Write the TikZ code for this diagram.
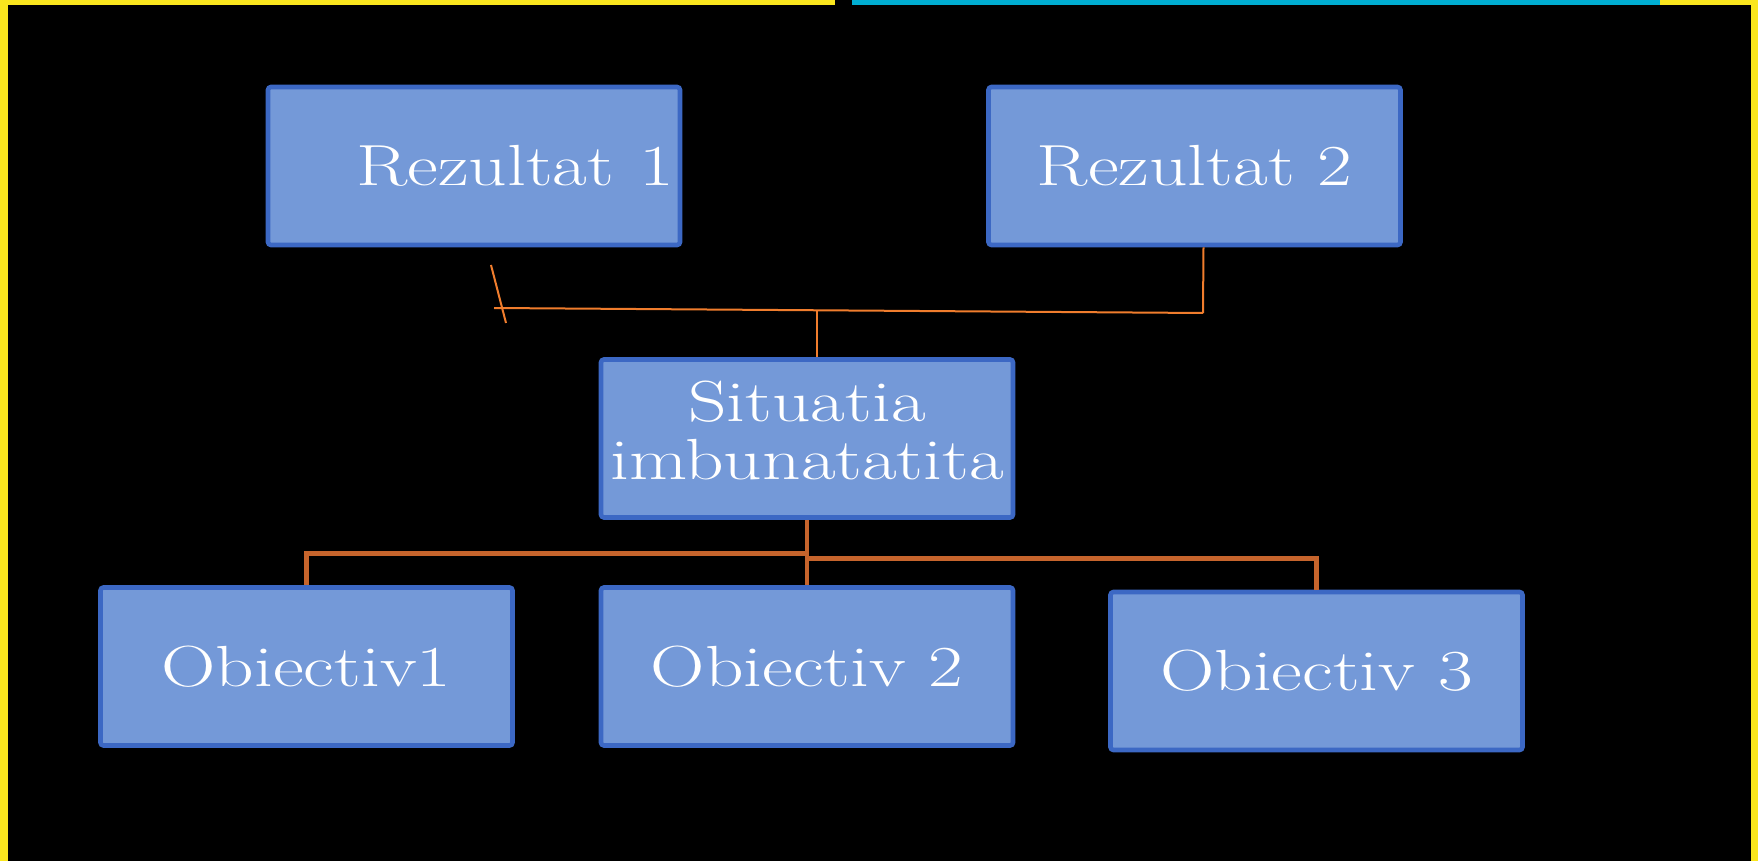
\documentclass[tikz,border=0pt]{standalone}
\usepackage{tikz}
\usepackage{graphicx}
\usepackage{xcolor}
\usetikzlibrary{}

\definecolor{boxfill}{RGB}{116,153,216}
\definecolor{boxline}{RGB}{60,104,196}
\definecolor{thinorange}{RGB}{240,125,45}
\definecolor{thickorange}{RGB}{198,100,44}
\definecolor{frameyellow}{RGB}{250,230,30}
\definecolor{framecyan}{RGB}{0,174,210}

\newcommand{\wide}[1]{\scalebox{1.3}[1]{#1}}

\tikzset{
	goalbox/.style={draw=boxline,fill=boxfill,line width=2.3pt,rounded corners=1.5pt,minimum width=206pt,minimum height=79pt,text=white,font=\fontsize{29}{29}\selectfont},
	thinlink/.style={draw=thinorange,line width=1pt},
	thicklink/.style={draw=thickorange,line width=2.4pt}
}

\begin{document}
\begin{tikzpicture}[x=0.5pt,y=-0.5pt]
		\useasboundingbox (0,0) rectangle (1758,861);
		\fill[black] (0,0) rectangle (1758,861);
		
		\fill[frameyellow] (0,0) rectangle (8,861);
		\fill[frameyellow] (1751,0) rectangle (1758,861);
		\fill[frameyellow] (0,0) rectangle (835,5);
		\fill[framecyan] (852,0) rectangle (1660,5);
		\fill[frameyellow] (1660,0) rectangle (1758,5);
		
		\node[goalbox,inner xsep=2pt,text width=200pt,align=right] (rez1) at (474,166) {\wide{Rezultat 1}};
		\node[goalbox] (rez2) at (1194.5,166) {\wide{Rezultat 2}};
		
		\node[goalbox,inner xsep=1pt] (sit) at (807,438.5) {\begin{tabular}{@{}c@{}}\wide{Situatia}\\\wide{imbunatatita}\end{tabular}};
		
		\node[goalbox] (ob1) at (306.5,666.5) {\wide{Obiectiv1}};
		\node[goalbox] (ob2) at (807,666.5) {\wide{Obiectiv 2}};
		\node[goalbox] (ob3) at (1316.5,671) {\wide{Obiectiv 3}};
		
		\coordinate (tl) at (494,308);
		\coordinate (tr) at (1203,313);
		\coordinate (tm) at (817,311);
		
		\draw[thinlink] (491,265) -- (506,323);
		\draw[thinlink] (tl) -- (tr);
		\draw[thinlink] ([xshift=4.5pt]rez2.south) -- (tr);
		\draw[thinlink] (tm) -- (tm |- sit.north);
		
		\draw[thicklink] (sit.south) -- (ob2.north);
		\draw[thicklink] (sit.south) ++(0,34) -| (ob1.north);
		\draw[thicklink] (sit.south) ++(0,39) -| (ob3.north);
	\end{tikzpicture}
\end{document}
